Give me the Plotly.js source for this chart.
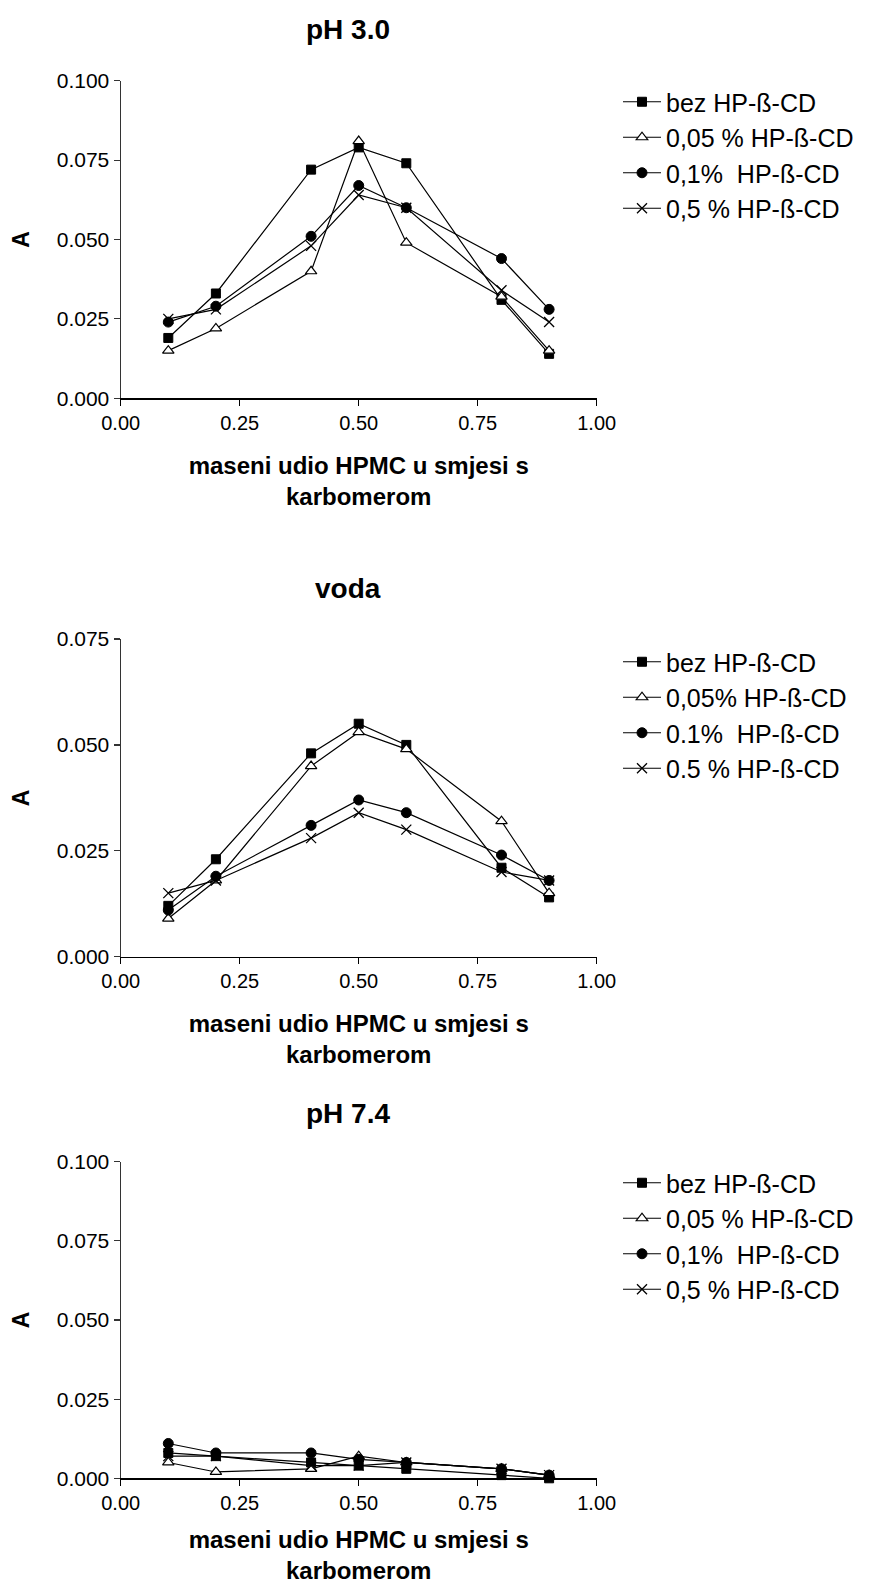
<!DOCTYPE html>
<html>
<head>
<meta charset="utf-8">
<script src="https://cdn.plot.ly/plotly-3.0.1.min.js"></script>
<style>html,body{margin:0;padding:0;background:#fff;} #chart{width:881px;height:1584px;}</style>
</head>
<body>
<div id="chart"></div>
<script>
// ---- data ----
const xVals = [0.1, 0.2, 0.4, 0.5, 0.6, 0.8, 0.9];

const panelTitles = ["pH 3.0", "voda", "pH 7.4"];

const namesP1 = ["bez HP-ß-CD", "0,05 % HP-ß-CD", "0,1%  HP-ß-CD", "0,5 % HP-ß-CD"];
const namesP2 = ["bez HP-ß-CD", "0,05% HP-ß-CD", "0.1%  HP-ß-CD", "0.5 % HP-ß-CD"];
const namesP3 = ["bez HP-ß-CD", "0,05 % HP-ß-CD", "0,1%  HP-ß-CD", "0,5 % HP-ß-CD"];

// pH 3.0
const p1_bez  = [0.019, 0.033, 0.072, 0.079, 0.074, 0.031, 0.014];
const p1_005  = [0.015, 0.022, 0.040, 0.081, 0.049, 0.032, 0.015];
const p1_01   = [0.024, 0.029, 0.051, 0.067, 0.060, 0.044, 0.028];
const p1_05   = [0.025, 0.028, 0.048, 0.064, 0.060, 0.034, 0.024];

// voda
const p2_bez  = [0.012, 0.023, 0.048, 0.055, 0.050, 0.021, 0.014];
const p2_005  = [0.009, 0.018, 0.045, 0.053, 0.049, 0.032, 0.015];
const p2_01   = [0.011, 0.019, 0.031, 0.037, 0.034, 0.024, 0.018];
const p2_05   = [0.015, 0.018, 0.028, 0.034, 0.030, 0.020, 0.018];

// pH 7.4
const p3_bez  = [0.008, 0.007, 0.005, 0.004, 0.003, 0.001, 0.000];
const p3_005  = [0.005, 0.002, 0.003, 0.007, 0.005, 0.003, 0.001];
const p3_01   = [0.011, 0.008, 0.008, 0.006, 0.005, 0.003, 0.001];
const p3_05   = [0.007, 0.007, 0.004, 0.004, 0.005, 0.003, 0.001];

const yTicks1 = [0, 0.025, 0.05, 0.075, 0.1];
const yTicks2 = [0, 0.025, 0.05, 0.075];
const xTicks = [0, 0.25, 0.5, 0.75, 1.0];
const xTickText = ["0.00", "0.25", "0.50", "0.75", "1.00"];
const yTickText1 = ["0.000", "0.025", "0.050", "0.075", "0.100"];
const yTickText2 = ["0.000", "0.025", "0.050", "0.075"];
const xTitle = "maseni udio HPMC u smjesi s<br>karbomerom";
const yTitle = "A";

// ---- styling ----
const W = 881, H = 1584;
const REG = "'Liberation Sans', Arial, sans-serif";

const markerStyles = [
  {symbol: "square", size: 9, color: "#000", line: {color: "#000", width: 1}},
  {symbol: "triangle-up", size: 10, color: "#fff", line: {color: "#000", width: 1.2}},
  {symbol: "circle", size: 10, color: "#000", line: {color: "#000", width: 1}},
  {symbol: "x-thin", size: 10, color: "#000", line: {color: "#000", width: 1.3}}
];

const panels = [
  {series: [p1_bez, p1_005, p1_01, p1_05], names: namesP1, top: 80.7, bottom: 398.3, range: [0, 0.1], ticks: yTicks1, tt: yTickText1, legTop: 79},
  {series: [p2_bez, p2_005, p2_01, p2_05], names: namesP2, top: 639, bottom: 956.7, range: [0, 0.075], ticks: yTicks2, tt: yTickText2, legTop: 639},
  {series: [p3_bez, p3_005, p3_01, p3_05], names: namesP3, top: 1161.7, bottom: 1478.3, range: [0, 0.1], ticks: yTicks1, tt: yTickText1, legTop: 1160}
];

const xLeft = 120.7, xRight = 596.7;
const traces = [];
const layout = {
  width: W, height: H,
  margin: {l: 0, r: 0, t: 0, b: 0},
  paper_bgcolor: "#fff", plot_bgcolor: "#fff",
  showlegend: true,
  annotations: []
};

const titleY = [30, 588, 1113];

panels.forEach((p, i) => {
  const n = i === 0 ? "" : String(i + 1);
  const legendKey = "legend" + n;
  p.series.forEach((s, k) => {
    traces.push({
      type: "scatter", mode: "lines+markers",
      x: xVals, y: s, name: p.names[k],
      xaxis: "x" + n, yaxis: "y" + n,
      legend: legendKey,
      line: {color: "#000", width: 1.2},
      marker: markerStyles[k],
      cliponaxis: false
    });
  });
  layout["xaxis" + n] = {
    domain: [xLeft / W, xRight / W],
    anchor: "y" + n,
    range: [0, 1],
    tickvals: xTicks, ticktext: xTickText,
    showline: true, linecolor: "#000", linewidth: 1.2,
    ticks: "outside", ticklen: 6, tickcolor: "#000", tickwidth: 1.2,
    showgrid: false, zeroline: false,
    tickfont: {family: REG, size: 20, color: "#000"},
    title: {text: xTitle, font: {family: REG, size: 24, color: "#000", weight: "bold"}, standoff: 24}
  };
  layout["yaxis" + n] = {
    domain: [1 - p.bottom / H, 1 - p.top / H],
    anchor: "x" + n,
    range: p.range,
    tickvals: p.ticks, ticktext: p.tt,
    showline: true, linecolor: "#333", linewidth: 1.2,
    ticks: "outside", ticklen: 6, tickcolor: "#333", tickwidth: 1.2,
    showgrid: false, zeroline: false,
    tickfont: {family: REG, size: 21, color: "#000"},
    title: {text: yTitle, font: {family: REG, size: 23, color: "#000", weight: "bold"}, standoff: 20}
  };
  layout[legendKey] = {
    x: 618 / W, y: 1 - p.legTop / H,
    xanchor: "left", yanchor: "top",
    bgcolor: "rgba(0,0,0,0)",
    font: {family: REG, size: 25, color: "#000"},
    itemwidth: 38,
    tracegroupgap: 0
  };
  layout.annotations.push({
    xref: "paper", yref: "paper",
    x: 348 / W, y: 1 - titleY[i] / H,
    xanchor: "center", yanchor: "middle",
    text: "<b>" + panelTitles[i] + "</b>",
    showarrow: false,
    font: {family: REG, size: 28, color: "#000"}
  });
});

Plotly.newPlot("chart", traces, layout, {displayModeBar: false, staticPlot: true});
</script>
</body>
</html>
